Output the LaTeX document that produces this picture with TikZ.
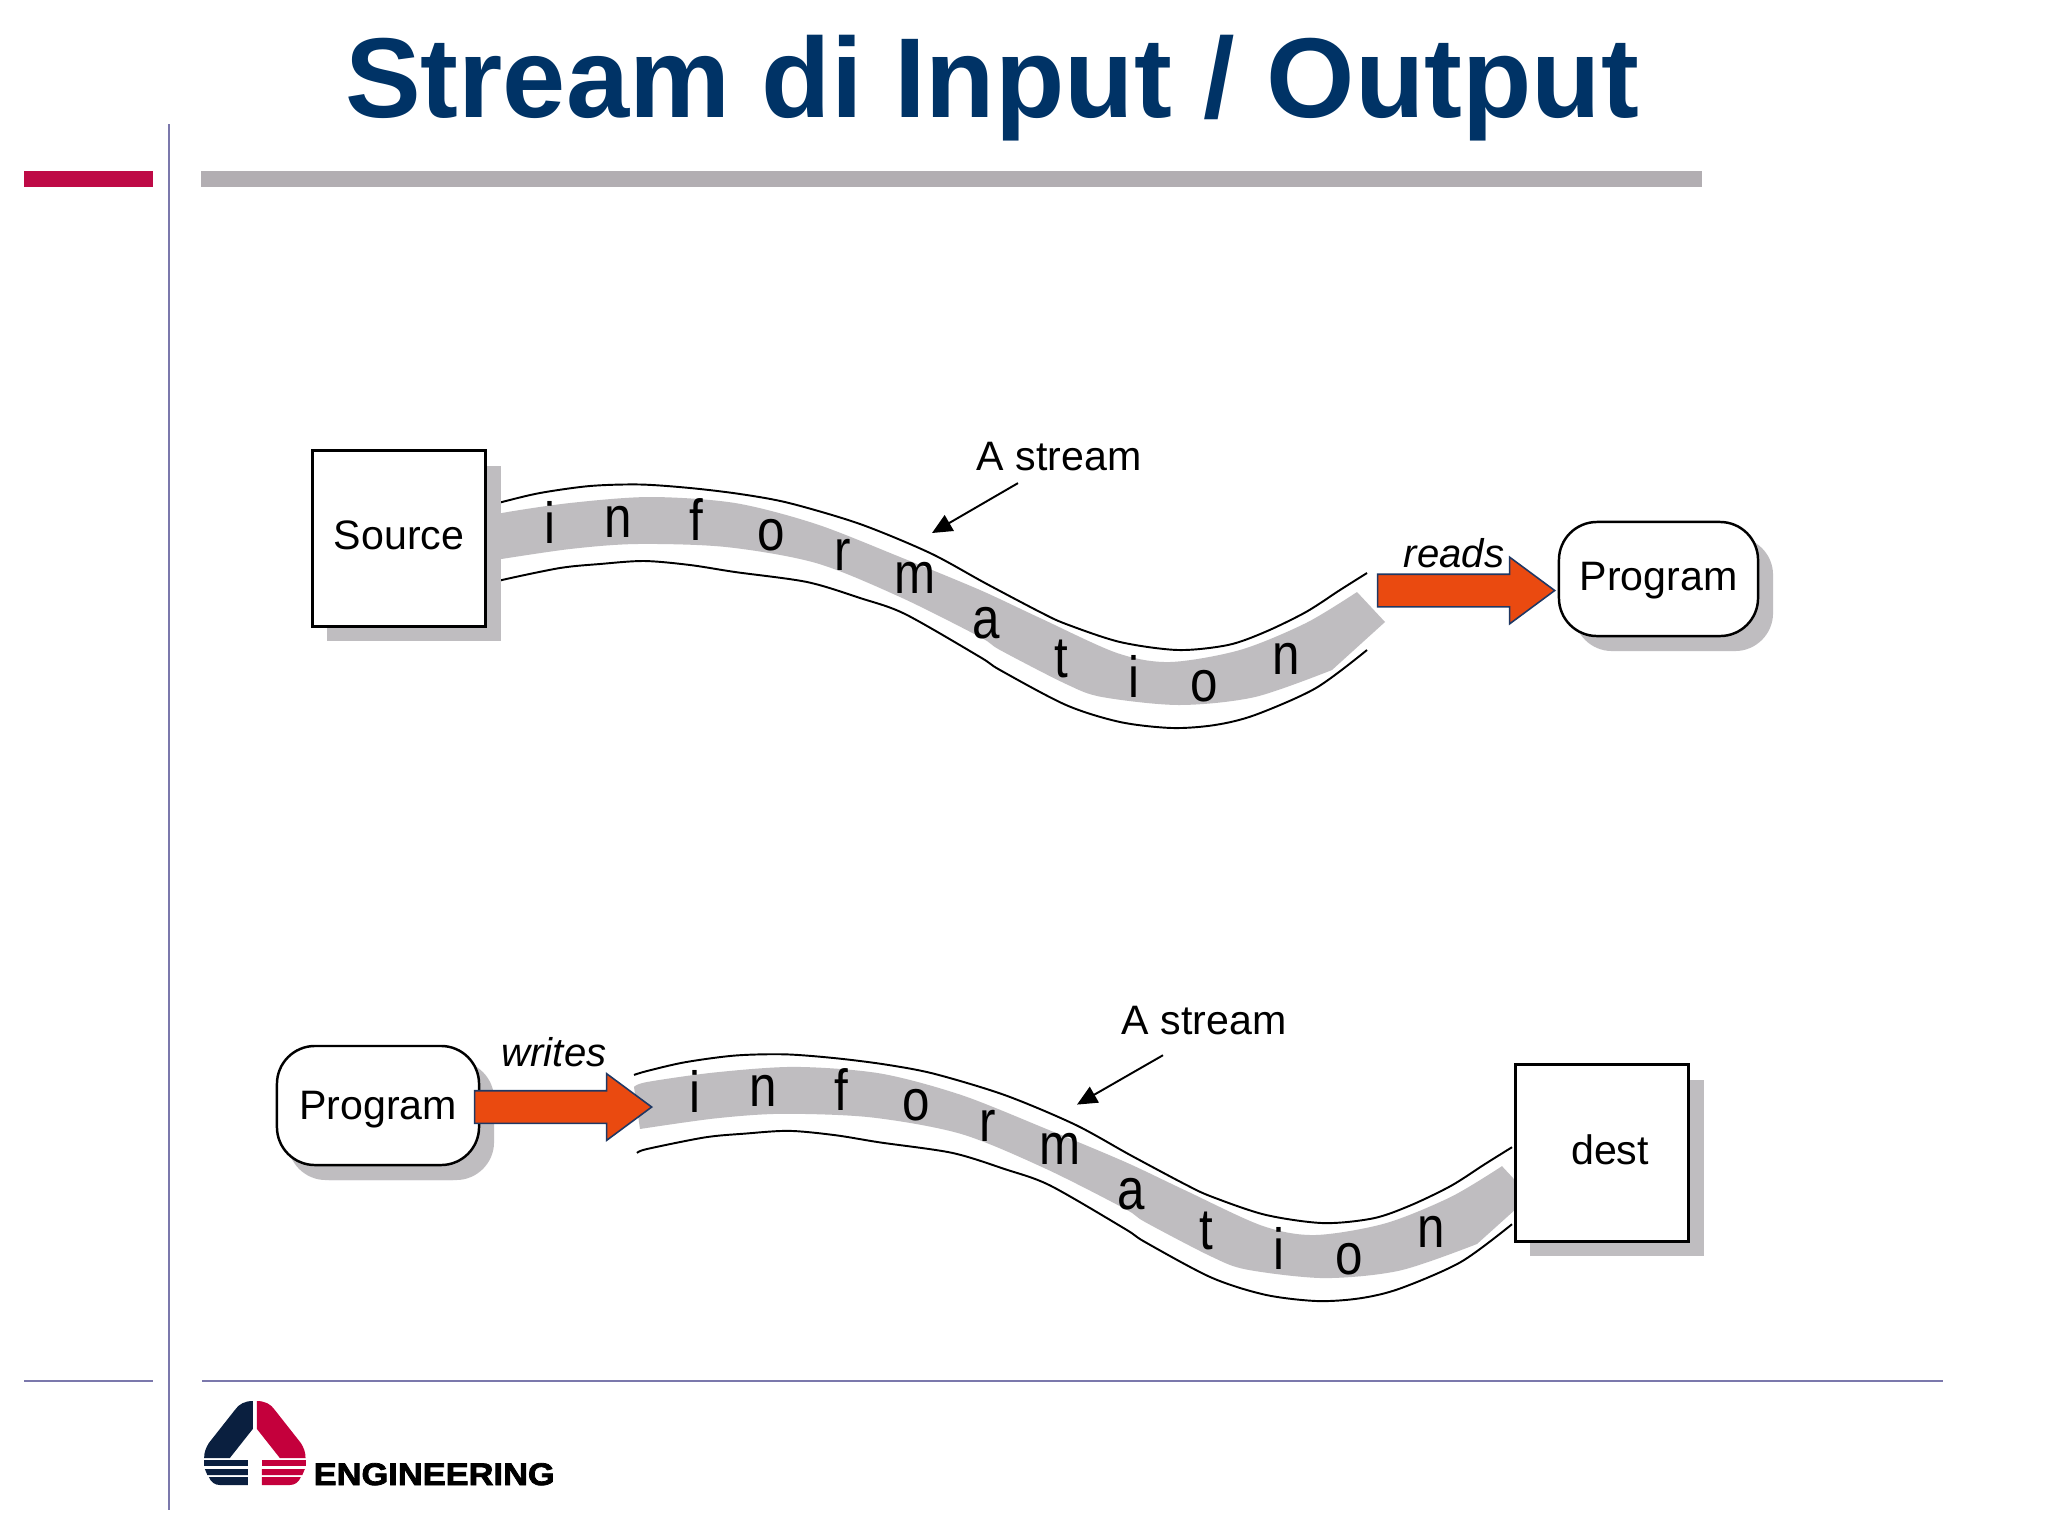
\documentclass[tikz,border=0pt]{standalone}
\usepackage{fontspec}
\setmainfont{Liberation Sans}
\newfontfamily\logofont[FakeStretch=1.1,FakeBold=2.5]{Liberation Sans Bold}
\newfontfamily\bandfont[FakeStretch=0.85]{Liberation Sans}
\usetikzlibrary{calc, arrows.meta, positioning, shadows, shapes.arrows}
\definecolor{titleBlue}{HTML}{003366}
\definecolor{barRed}{HTML}{BE0A46}
\definecolor{barGray}{HTML}{B2AEB2}
\definecolor{ruleBlue}{HTML}{7B78AC}
\definecolor{bandGray}{HTML}{BFBDC0}
\definecolor{arrowOrange}{HTML}{EA4A10}
\definecolor{arrowEdge}{HTML}{1F3864}
\definecolor{logoNavy}{HTML}{0A1F3F}
\definecolor{logoRed}{HTML}{C4003C}
\tikzset{
    labeltext/.style={font=\fontsize{11.7pt}{13pt}\selectfont, inner sep=0pt},
    italictext/.style={anchor=base, inner sep=0pt, font=\fontsize{11.4pt}{13pt}\selectfont\itshape},
    boxshadow/.style={drop shadow={shadow xshift=0.15cm, shadow yshift=-0.15cm, fill=bandGray, opacity=1}},
    squarebox/.style={draw, line width=0.85pt, fill=white, labeltext, text height=0.3cm, text depth=0.08cm, boxshadow},
    roundbox/.style={squarebox, rounded corners=0.38cm, line width=0.7pt},
    bandletter/.style={font=\fontsize{16.5pt}{18pt}\bandfont, anchor=base, inner sep=0pt},
    streamline/.style={line width=0.55pt, black},
    bigarrow/.style={single arrow, draw=arrowEdge, line width=0.45pt, fill=arrowOrange, inner sep=0.155cm,
        minimum height=1.77cm, single arrow head extend=0.17cm,
        single arrow tip angle=73, anchor=tip},
    rulefine/.style={ruleBlue, line width=0.6pt}
}
\newcommand{\drawstream}[2]{
    \fill[bandGray] plot[smooth] coordinates {(489,518) (502,513) (570,503) (650,497) (735,503) (816,524) (900,557) (980,590) (1040,618) (1117,653) (1170,662) (1240,650) (1306,623) (1357,592)}
        -- (1385,622) -- plot[smooth] coordinates {(1332,670) (1255,697) (1179,705) (1102,697) (1066,684) (1000,650) (980,637) (900,597) (816,563) (726,547) (637,544) (570,549) (495,560)} -- cycle;
    \draw[streamline] plot[smooth] coordinates {(489,506) (502,502) (540,493) (590,486) (640,484.5) (690,488) (740,494) (789,503) (860,524) (930,553) (985,583) (1040,612) (1066,624) (1120,642) (1178,650) (1228,645) (1265,632) (1306,612) (1340,590) (1367,573)};
    \draw[streamline] plot[smooth] coordinates {(492,584) (502,580) (560,568) (600,564) (644,561) (690,565) (735,572) (807,582) (860,598) (905,614) (980,657) (1000,670) (1066,705) (1120,722) (1172,728) (1215,725) (1255,715) (1316,688) (1367,650)};
    \foreach \ch/\lx/\ly [count=\k] in {i/550/543, n/618/537, f/696/540, o/771/550, r/843/570, m/915/593, a/986/638, t/1061/677, i/1134/697, o/1204/701, n/1286/674}
        \node[bandletter] (#1\k) at (\lx,\ly) {\ch};
    \node[labeltext, anchor=base] (#1label) at (1059,{471-#2}) {A stream};
    \coordinate (#1tip) at (932,533);
    \draw[line width=0.55pt, -{Triangle[length=0.2cm, width=0.18cm]}] ($(#1label.south)+(-41,{11+#2})$) -- (#1tip);
}

\begin{document}
\begin{tikzpicture}[x=0.01cm, y=-0.01cm]
    \useasboundingbox (0,0) rectangle (2048,1536);
    \fill[white] (0,0) rectangle (2048,1536);

    \node[anchor=base, inner sep=0pt, text=titleBlue, font=\fontsize{32.3pt}{36pt}\selectfont\bfseries] (title) at (992,117) {Stream di Input / Output};

    \fill[barRed] (24,171) rectangle (153,187);
    \fill[barGray] (201,171) rectangle (1702,187);
    \draw[rulefine] (169,124) -- (169,1510);
    \draw[rulefine] (24,1381) -- (153,1381);
    \draw[rulefine] (202,1381) -- (1943,1381);

    \drawstream{up}{1}
    \node[squarebox, minimum width=1.73cm, minimum height=1.75cm] (source) at (399,538.5) {Source};
    \node[roundbox, minimum width=1.99cm, minimum height=1.14cm] (programA) at (1658.5,579) {Program};
    \node[bigarrow] (readsarrow) at (1556,590.5) {};
    \node[italictext] (reads) at (1454,567) {reads};

    \begin{scope}[shift={(145,566)}, yslant=-0.006]
        \drawstream{down}{9}
    \end{scope}
    \node[roundbox, minimum width=2.02cm, minimum height=1.19cm, text depth=0.03cm, drop shadow={shadow xshift=0.11cm, shadow yshift=-0.15cm, fill=bandGray, opacity=1}] (programB) at (378,1105.5) {Program};
    \node[bigarrow] (writesarrow) at (653,1107) {};
    \node[italictext] (writes) at (554,1066) {writes};
    \node[squarebox, minimum width=1.73cm, minimum height=1.76cm] (dest) at (1602,1153) {\hspace*{0.16cm}dest};

    \foreach \logocol/\logoflip in {logoNavy/1, logoRed/-1} {
        \begin{scope}[xshift=2.547cm, xscale=\logoflip]
            \fill[\logocol] (-2.1,1401) .. controls (-10,1401) and (-16,1404) .. (-20,1410) -- (-46,1443)
                .. controls (-49,1448) and (-50.7,1452) .. (-50.7,1458) -- (-25,1458) -- (-2.1,1429) -- cycle;
            \fill[\logocol] (-50.7,1460) rectangle (-7,1466);
            \fill[\logocol] (-50,1469) -- (-7,1469) -- (-7,1475) -- (-47.5,1475) -- cycle;
            \fill[\logocol] (-46,1477) -- (-7,1477) -- (-7,1485) -- (-35,1485) .. controls (-40,1485) and (-44,1482) .. (-46,1477) -- cycle;
        \end{scope}
    }
    \node[anchor=base west, inner sep=0pt, font=\fontsize{8.9pt}{10pt}\logofont] (logoname) at (313,1485) {ENGINEERING};
\end{tikzpicture}
\end{document}
